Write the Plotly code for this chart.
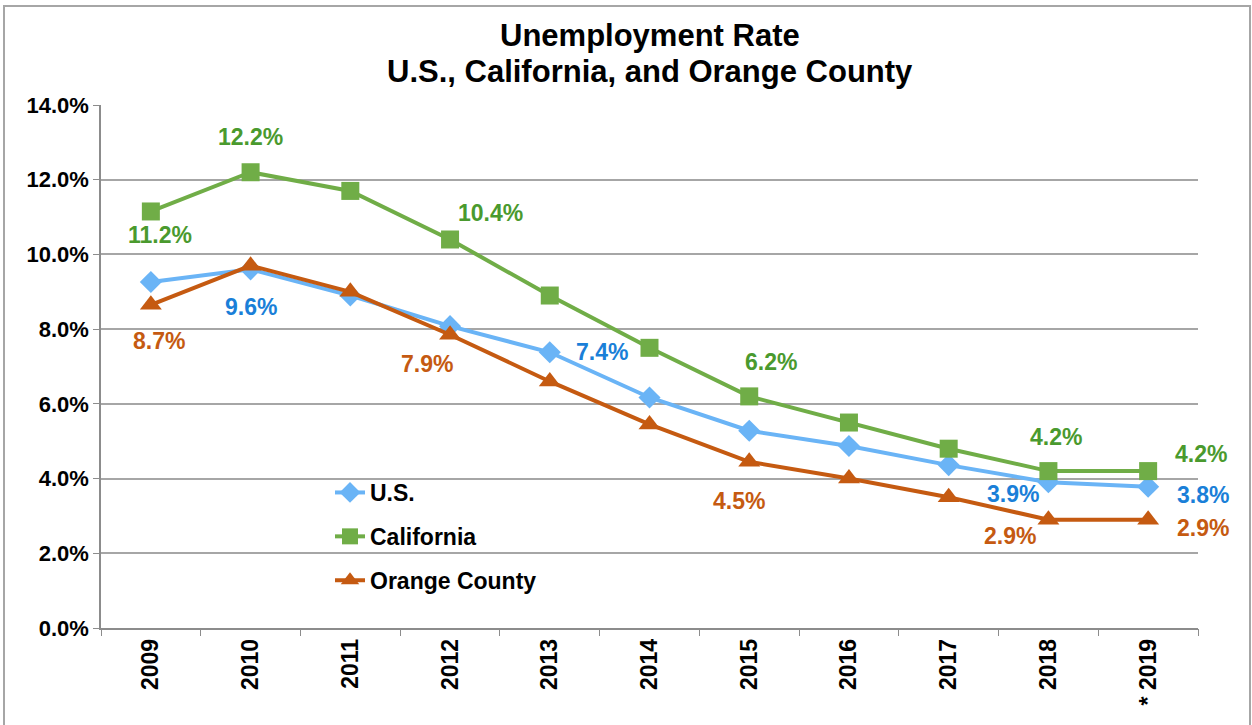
import plotly.graph_objects as go

years = ["2009", "2010", "2011", "2012", "2013", "2014", "2015", "2016", "2017", "2018", "2019"]
tick_text = ["2009", "2010", "2011", "2012", "2013", "2014", "2015", "2016", "2017", "2018", "* 2019"]
us = [9.26, 9.6, 8.9, 8.08, 7.38, 6.17, 5.28, 4.87, 4.36, 3.9, 3.78]
ca = [11.15, 12.2, 11.7, 10.4, 8.9, 7.5, 6.2, 5.5, 4.8, 4.2, 4.2]
oc = [8.65, 9.7, 9.0, 7.85, 6.6, 5.45, 4.45, 4.0, 3.5, 2.9, 2.9]

# data labels: (index, text, xshift, yshift)
us_labels = [(1, "9.6%", 0, -38), (4, "7.4%", 52, 0), (9, "3.9%", -35, -12), (10, "3.8%", 55, -8)]
ca_labels = [(0, "11.2%", 9, -24), (1, "12.2%", 0, 35), (3, "10.4%", 40, 26), (6, "6.2%", 22, 34), (9, "4.2%", 8, 34), (10, "4.2%", 53, 17)]
oc_labels = [(0, "8.7%", 8, -36), (3, "7.9%", -23, -29), (6, "4.5%", -10, -39), (9, "2.9%", -38, -16), (10, "2.9%", 55, -8)]

US_LINE, US_TXT = "#6ab4f6", "#1a7fd8"
CA_LINE, CA_TXT = "#70ad47", "#4a9a2e"
OC_LINE, OC_TXT = "#c55a11", "#c55a11"
FONT = "Liberation Sans, Arial, sans-serif"

fig = go.Figure()
fig.add_trace(go.Scatter(x=list(range(len(years))), y=us, name="<b>U.S.</b>", mode="lines+markers", legendgroup="a",
                         line=dict(color=US_LINE, width=4), marker=dict(symbol="diamond", size=17, color=US_LINE)))
fig.add_trace(go.Scatter(x=list(range(len(years))), y=ca, name="<b>California</b>", mode="lines+markers", legendgroup="b",
                         line=dict(color=CA_LINE, width=4), marker=dict(symbol="square", size=18, color=CA_LINE)))
fig.add_trace(go.Scatter(x=list(range(len(years))), y=oc, name="<b>Orange County</b>", mode="lines+markers", legendgroup="c",
                         line=dict(color=OC_LINE, width=4), marker=dict(symbol="triangle-up", size=19, color=OC_LINE)))

annotations = []
for labels, series, col in [(us_labels, us, US_TXT), (ca_labels, ca, CA_TXT), (oc_labels, oc, OC_TXT)]:
    for i, txt, dx, dy in labels:
        annotations.append(dict(x=i, y=series[i], xref="x", yref="y", text=f"<b>{txt}</b>", showarrow=False,
                                xshift=dx, yshift=dy, font=dict(family=FONT, size=23, color=col)))

W, H = 1252, 725
ml, mr, mt, mb = 101, 54, 105, 97
pw, ph = W - ml - mr, H - mt - mb

def px(xp):
    return (xp - ml) / pw

def py(yp):
    return (H - mb - yp) / ph

title_lines = ["Unemployment Rate", "U.S., California, and Orange County"]
for txt, yc in zip(title_lines, [35, 72]):
    annotations.append(dict(x=0.5, y=py(yc), xref="paper", yref="paper", xanchor="center", yanchor="middle",
                            text=f"<b>{txt}</b>", showarrow=False,
                            font=dict(family=FONT, size=31, color="black")))

shapes = [dict(type="rect", xref="paper", yref="paper", x0=px(4), x1=px(1250), y0=py(726), y1=py(6),
               line=dict(color="#a6a6a6", width=2), fillcolor="rgba(0,0,0,0)", layer="below")]

fig.update_layout(
    width=W, height=H,
    margin=dict(l=ml, r=mr, t=mt, b=mb),
    paper_bgcolor="white", plot_bgcolor="white",
    font=dict(family=FONT, color="black"),
    showlegend=True,
    legend=dict(x=px(330), y=py(471), xanchor="left", yanchor="top", bgcolor="rgba(0,0,0,0)",
                font=dict(family=FONT, size=23, color="black"), tracegroupgap=11),
    xaxis=dict(tickmode="array", tickvals=list(range(len(years))), ticktext=[f"<b>{t}</b>" for t in tick_text],
               tickangle=-90, tickfont=dict(family=FONT, size=23, color="black"),
               showline=True, linecolor="#8c8c8c", linewidth=1.5,
               ticks="", showgrid=False, zeroline=False, range=[-0.5, 10.5]),
    xaxis2=dict(overlaying="x", range=[-0.5, 10.5], tickmode="array",
                tickvals=[i - 0.5 for i in range(len(years) + 1)], showticklabels=False,
                ticks="outside", ticklen=7, tickcolor="#8c8c8c", showgrid=False, zeroline=False,
                side="bottom", anchor="y"),
    yaxis=dict(range=[0, 14], dtick=2, tickformat=".1f", tickprefix="<b>", ticksuffix="%</b>",
               tickfont=dict(family=FONT, size=22, color="black"),
               showline=True, linecolor="#8c8c8c", linewidth=1.5,
               ticks="outside", ticklen=6, tickcolor="#8c8c8c",
               showgrid=True, gridcolor="#a6a6a6", gridwidth=1.5, zeroline=False),
    annotations=annotations,
    shapes=shapes,
)
# invisible helper trace so the boundary-tick axis is drawn
fig.add_trace(go.Scatter(x=[0], y=[None], xaxis="x2", showlegend=False, hoverinfo="skip"))
fig.write_html("out.html", config={"displayModeBar": False},
               post_script="document.body.style.margin='0';")
